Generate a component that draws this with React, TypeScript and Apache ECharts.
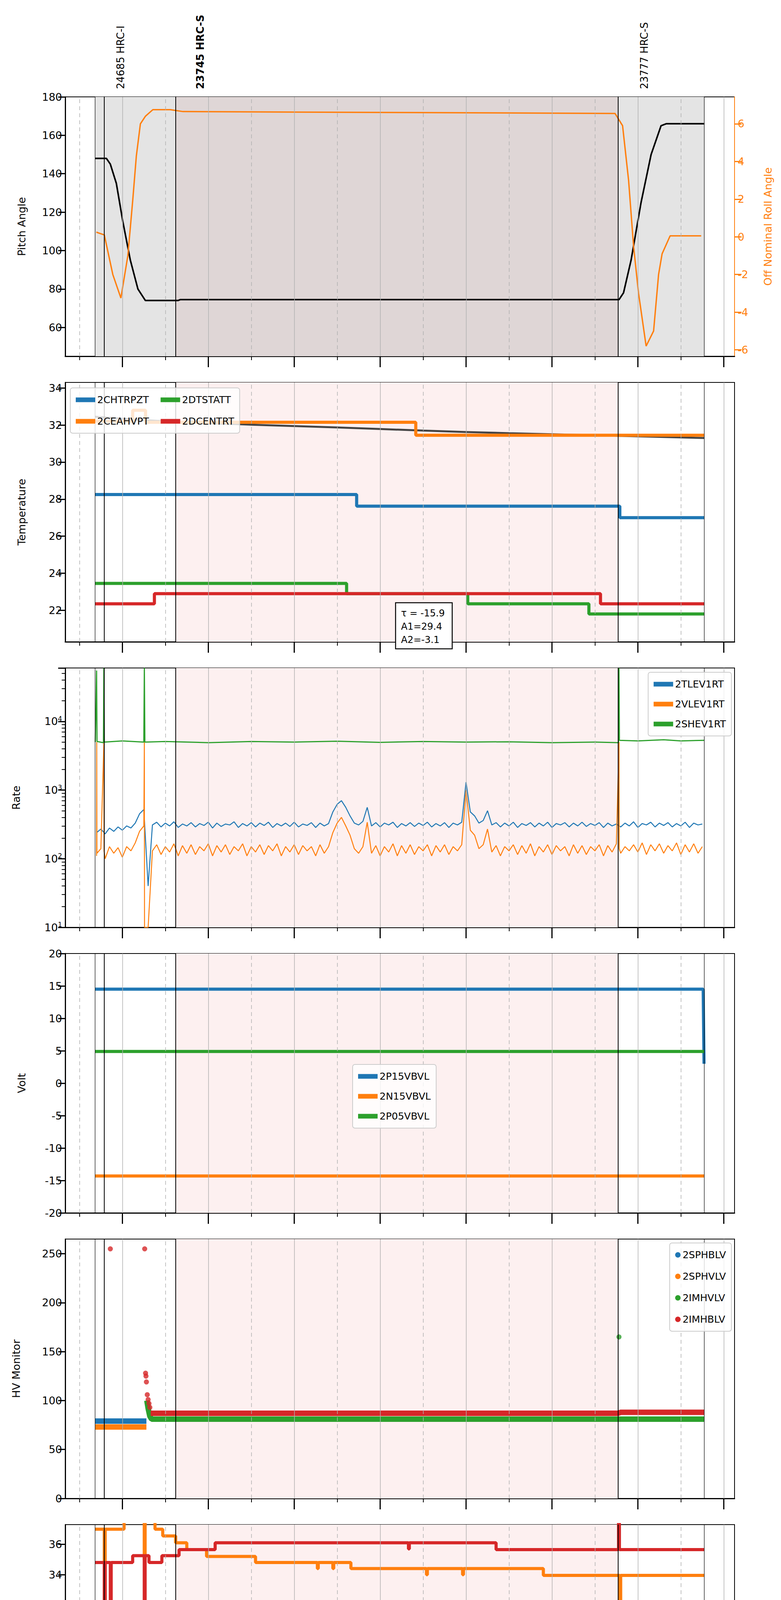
import React, { useEffect, useRef } from 'react';
import * as echarts from 'echarts';

const FONT = 'DejaVu Sans';
const BLUE = '#1f77b4';
const ORANGE = '#ff7f0e';
const GREEN = '#2ca02c';
const RED = '#d62728';

// x in decimal hours of 2021-01-06
const hourTicks = [17, 18, 19, 20, 21, 22, 23, 24];
const halfTicks = [16.5, 17.5, 18.5, 19.5, 20.5, 21.5, 22.5, 23.5];
const blackLines = [16.685, 16.786, 17.62, 22.77, 23.77];

// Pitch / roll
const pitch = [[16.685, 148], [16.814, 148], [16.86, 145], [16.93, 135], [17.006, 115], [17.093, 95], [17.181, 80], [17.268, 74], [17.647, 74], [17.676, 74.5], [22.781, 74.5], [22.833, 78], [22.921, 95], [23.037, 125], [23.154, 150], [23.27, 165], [23.329, 166], [23.772, 166]];
const roll = [[16.697, 0.25], [16.79, 0.1], [16.889, -2], [16.983, -3.25], [17.064, -1], [17.122, 2], [17.163, 4.3], [17.21, 6], [17.268, 6.4], [17.355, 6.75], [17.559, 6.75], [17.705, 6.65], [22.734, 6.55], [22.822, 5.9], [22.892, 3], [22.95, -0.5], [23.008, -3], [23.096, -5.8], [23.183, -5], [23.241, -2], [23.282, -0.9], [23.375, 0.05], [23.737, 0.05]];

// Temperature
const t2CHTRPZT = [[16.685, 28.25], [19.727, 27.62], [22.79, 27.0], [23.77, 27.0]];
const t2CEAHVPT = [[16.685, 32.2], [17.12, 32.8], [17.27, 32.15], [20.415, 31.45], [23.77, 31.45]];
const t2DTSTATT = [[16.685, 23.45], [19.61, 22.9], [21.02, 22.35], [22.43, 21.8], [23.77, 21.8]];
const t2DCENTRT = [[16.685, 22.35], [17.373, 22.9], [22.565, 22.35], [23.77, 22.35]];
const tempFit = [[16.685, 32.45], [17.5, 32.2], [18.5, 32.02], [19.5, 31.87], [20.5, 31.7], [21.5, 31.56], [22.5, 31.45], [23.77, 31.3]];

// Rates, sampled every 3 min from 16:42
const rateStart = 16.7;
const rateStep = 0.05;
const rate2TLEV1RT = [
  240, 270, 230, 280, 250, 290, 260, 300, 280, 330,
  450, 520, 40,
  310, 340, 290, 330, 300, 345, 285, 320, 300, 335, 290, 325, 305, 340, 280, 330, 295, 320, 310, 345,
  285, 325, 300, 335, 290, 330, 305, 340, 285, 325, 300, 330, 295, 340, 290, 320, 305, 335, 285, 330, 300, 325,
  480, 620, 700, 560, 420,
  330, 310, 350, 560,
  300, 335, 290, 330, 310, 340, 285, 325, 300, 335, 295, 330, 305, 340, 290, 325, 300, 335, 285, 330, 310, 340,
  1300, 480, 420, 330, 360, 500,
  310, 335, 290, 330, 300, 340, 285, 325, 305, 335, 290, 330, 300, 340, 285, 325, 310, 335, 290, 330,
  300, 340, 295, 325, 305, 335, 285, 330, 300, 320, 290, 330, 300, 345, 285, 325, 310, 340, 290, 330,
  305, 335, 290, 325, 300, 340, 285, 330, 310, 320,
];
const rate2VLEV1RT = [
  110, 140, 100, 150, 120, 145, 105, 150, 130, 170,
  250, 300, 10,
  130, 160, 115, 150, 125, 165, 110, 155, 120, 160, 115, 150, 130, 165, 110, 155, 125, 160, 115, 150,
  130, 165, 110, 150, 125, 160, 115, 155, 130, 165, 110, 150, 125, 160, 115, 155, 130, 150, 110, 160, 120, 150,
  240, 330, 400, 300, 220,
  140, 120, 150, 340,
  120, 155, 110, 150, 125, 165, 110, 155, 120, 160, 115, 150, 130, 160, 110, 155, 125, 160, 115, 150, 130, 160,
  1000, 260, 220, 140, 160, 270,
  125, 155, 110, 150, 130, 160, 115, 155, 120, 165, 110, 150, 125, 160, 115, 155, 130, 150, 110, 160,
  120, 155, 115, 150, 130, 160, 110, 155, 125, 165, 120, 150, 130, 160, 125, 170, 115, 160, 130, 165,
  120, 155, 130, 170, 115, 160, 125, 165, 120, 150,
];
const orangeRateSpikes = [[16.702, 5000], [16.704, 120], [16.785, 5000], [16.787, 130], [17.256, 5000], [17.258, 10], [22.781, 5000], [22.783, 140]];
const rate2SHEV1RT = [[16.685, 5000], [16.7, 55000], [16.705, 5100], [16.78, 4900], [16.785, 60000], [16.79, 5000], [17.0, 5200], [17.25, 5000], [17.256, 60000], [17.262, 5000], [17.5, 5100], [18.0, 4900], [18.5, 5100], [19.0, 5000], [19.5, 5150], [20.0, 4950], [20.5, 5100], [21.0, 5000], [21.5, 5050], [22.0, 4900], [22.5, 5000], [22.775, 4900], [22.78, 60000], [22.785, 5300], [23.0, 5200], [23.3, 5400], [23.5, 5200], [23.77, 5300]];

// Volt
const v2P15VBVL = [[16.685, 14.5], [23.76, 14.5], [23.77, 3]];
const v2N15VBVL = [[16.685, -14.3], [23.77, -14.3]];
const v2P05VBVL = [[16.685, 4.9], [23.77, 4.9]];

// HV monitor
const hv2SPHBLV = [[16.685, 79], [17.28, 79]];
const hv2SPHVLV = [[16.685, 73], [17.28, 73]];
const hv2IMHVLV = [[17.285, 100], [17.3, 92], [17.32, 84], [17.34, 81], [23.77, 81]];
const hv2IMHVLVPts = [[22.78, 165]];
const hv2IMHBLV = [[17.33, 87], [22.77, 87], [22.8, 88], [23.77, 88]];
const hv2IMHBLVPts = [[16.86, 255], [17.26, 255], [17.27, 128], [17.275, 125], [17.28, 119], [17.29, 106], [17.3, 101], [17.31, 97], [17.32, 93]];

// Detector temp
const d2SPINATM = [[16.685, 21.7], [23.77, 21.7]];
const d2SPHVATM = [[16.685, 37.0], [16.79, 10], [16.8, 37.0], [17.02, 37.8], [17.255, 35.0], [17.265, 37.8], [17.38, 37.0], [17.47, 36.55], [17.62, 36.1], [17.75, 35.65], [17.98, 35.2], [18.55, 34.8], [19.27, 34.4], [19.28, 34.8], [19.45, 34.4], [19.46, 34.8], [19.66, 34.4], [20.54, 34.0], [20.55, 34.4], [20.96, 34.0], [20.97, 34.4], [21.9, 33.95], [22.79, 10], [22.8, 33.95], [23.77, 33.95]];
const d2IMINATM = [[16.685, 23.1], [16.79, 10], [16.8, 23.1], [20.68, 22.4], [22.78, 10], [22.79, 22.4], [23.49, 21.7], [23.77, 21.7]];
const d2IMHVATM = [[16.685, 34.8], [16.79, 10], [16.8, 34.8], [16.86, 10], [16.87, 34.8], [17.12, 35.25], [17.255, 10], [17.265, 35.25], [17.31, 34.8], [17.46, 35.25], [17.66, 35.65], [18.08, 36.1], [20.33, 35.7], [20.34, 36.1], [21.35, 35.65], [22.775, 40], [22.785, 35.65], [23.77, 35.65]];

// FEA temp
const f2FHTRMZT = [[16.685, 26.4], [17.9, 25.8], [18.655, 25.2], [19.44, 24.6], [20.27, 24.05], [21.16, 23.45], [22.13, 22.9], [23.77, 22.9]];
const f2FRADPYT = [[16.685, 21.8], [16.94, 22.35], [17.105, 21.8], [17.31, 21.25], [17.58, 20.7], [17.98, 20.2], [18.515, 19.7], [19.15, 19.15], [19.87, 18.65], [20.62, 18.15], [21.45, 17.65], [22.41, 17.15], [23.14, 17.65], [23.48, 18.15], [23.77, 18.15]];
const f2FEPRATM = [[16.685, 27.8], [16.8, 29], [16.805, 25.6], [16.81, 27.8], [16.855, 25.6], [16.86, 27.8], [17.26, 25.6], [17.265, 27.8], [18.08, 27.0], [19.31, 26.15], [20.56, 25.4], [21.96, 24.6], [22.78, 29], [22.785, 24.6], [23.77, 24.6]];
const f2FE00ATM = [[16.685, 25.3], [16.7, 25.65], [16.79, 10], [16.8, 25.65], [16.86, 10], [16.87, 25.65], [16.93, 25.3], [16.95, 25.65], [17.08, 24.9], [17.1, 25.65], [17.12, 25.3], [17.14, 25.65], [17.26, 10], [17.27, 25.65], [17.38, 25.3], [17.81, 26.3], [17.82, 25.3], [17.94, 24.95], [18.235, 24.0], [18.245, 24.95], [18.53, 24.6], [18.88, 25.3], [18.89, 24.6], [19.07, 24.3], [19.34, 22.6], [19.35, 24.3], [19.64, 25.3], [19.65, 24.3], [19.69, 23.95], [20.0, 22.9], [20.01, 23.95], [20.27, 23.65], [20.91, 23.3], [21.06, 22.6], [21.07, 23.3], [21.58, 23.0], [21.71, 22.3], [21.72, 23.0], [22.27, 21.7], [22.28, 23.0], [22.31, 22.65], [22.775, 25.3], [22.785, 22.65], [23.21, 22.3], [23.22, 22.65], [23.77, 22.65]];

const TOP0 = 240;
const STEP = 731;
const PH = 664;
const LEFT = 159;
const RIGHT = 111;

const withSpikes = (vals: number[], spikes: number[][]) =>
  vals.map((v, i) => [rateStart + rateStep * i, v]).concat(spikes).sort((a, b) => a[0] - b[0]);

const App: React.FC = () => {
  const ref = useRef<HTMLDivElement>(null);

  useEffect(() => {
    if (!ref.current) return;
    const chart = echarts.init(ref.current, undefined, { renderer: 'svg' });

    const names = ['Pitch Angle', 'Temperature', 'Rate', 'Volt', 'HV Monitor', 'Detector Temp', 'FEA Temp'];
    const yDefs: any[] = [
      { min: 45, max: 180, ticks: [60, 80, 100, 120, 140, 160, 180] },
      { min: 20.3, max: 34.3, ticks: [22, 24, 26, 28, 30, 32, 34] },
      { log: true },
      { min: -20, max: 20, ticks: [-20, -15, -10, -5, 0, 5, 10, 15, 20] },
      { min: 0, max: 265, ticks: [0, 50, 100, 150, 200, 250] },
      { min: 20.2, max: 37.3, ticks: [22, 24, 26, 28, 30, 32, 34, 36] },
      { min: 16.15, max: 28.4, ticks: [18, 20, 22, 24, 26, 28] },
    ];

    const grid: any[] = [];
    const xAxis: any[] = [];
    const yAxis: any[] = [];
    const series: any[] = [];
    const yIdx: number[] = [];

    const tickStyle = { show: true, inside: false, lineStyle: { color: '#000', width: 3 } };

    for (let p = 0; p < 7; p++) {
      const last = p === 6;
      grid.push({ left: LEFT, right: RIGHT, top: TOP0 + STEP * p, height: PH, show: true, borderColor: '#000', borderWidth: 2, backgroundColor: 'transparent' });
      xAxis.push({
        type: 'value', gridIndex: p, min: 16.335, max: 24.125, position: 'bottom',
        axisLine: { show: true, onZero: false, lineStyle: { color: '#000', width: 3 } },
        axisTick: { ...tickStyle, length: 28, customValues: hourTicks },
        axisLabel: {
          show: last, customValues: hourTicks, margin: 38, fontFamily: FONT, fontSize: 28, color: '#000',
          formatter: (v: number) => String(v % 24).padStart(2, '0') + 'h',
        },
        splitLine: { show: false },
        name: last ? '2021-01-06 (006)' : '', nameLocation: 'middle', nameGap: 88,
        nameTextStyle: { fontFamily: FONT, fontSize: 30, color: '#000' },
      });
      xAxis.push({
        type: 'value', gridIndex: p, min: 16.335, max: 24.125, position: 'bottom',
        axisLine: { show: false, onZero: false },
        axisTick: { ...tickStyle, length: 10, lineStyle: { color: '#000', width: 2 }, customValues: halfTicks },
        axisLabel: { show: last, customValues: halfTicks, margin: 14, fontFamily: FONT, fontSize: 17, color: '#000', formatter: () => '30' },
        splitLine: { show: false },
      });
      const d = yDefs[p];
      yIdx.push(yAxis.length);
      const base: any = {
        gridIndex: p, position: 'left',
        axisLine: { show: true, onZero: false, lineStyle: { color: '#000', width: 3 } },
        axisTick: { ...tickStyle, length: 18 },
        splitLine: { show: false },
        name: names[p], nameLocation: 'middle', nameGap: p === 2 || p === 4 ? 112 : 98,
        nameTextStyle: { fontFamily: FONT, fontSize: 27, color: '#000' },
      };
      if (d.log) {
        yAxis.push({
          ...base, type: 'log', logBase: 10, min: 10, max: 60000,
          axisLabel: {
            fontFamily: FONT, color: '#000', showMaxLabel: false,
            formatter: (v: number) => {
              const e = Math.log10(v);
              if (Math.abs(e - Math.round(e)) > 1e-6) return '';
              return `{b|10}{s|${Math.round(e)}}`;
            },
            rich: { b: { fontSize: 27, fontFamily: FONT, color: '#000' }, s: { fontSize: 17, fontFamily: FONT, color: '#000', padding: [0, 0, 14, 0] } },
          },
          minorTick: { show: true, splitNumber: 9, length: 9, lineStyle: { color: '#000', width: 2 } },
        });
      } else {
        yAxis.push({
          ...base, type: 'value', min: d.min, max: d.max,
          axisTick: { ...base.axisTick, customValues: d.ticks },
          axisLabel: { customValues: d.ticks, fontFamily: FONT, fontSize: 27, color: '#000' },
        });
      }
      // background shading + vertical guide lines
      const areas: any[] = p === 0
        ? [
            [{ xAxis: 16.685, itemStyle: { color: '#e4e4e4' } }, { xAxis: 23.77 }],
            [{ xAxis: 17.62, itemStyle: { color: 'rgba(200,150,150,0.17)' } }, { xAxis: 22.77 }],
          ]
        : [[{ xAxis: 17.62, itemStyle: { color: '#fdf0f0' } }, { xAxis: 22.77 }]];
      const lines: any[] = [
        ...hourTicks.map((h) => ({ xAxis: h, lineStyle: { color: '#b0b0b0', width: 1.5, type: 'solid' } })),
        ...halfTicks.map((h) => ({ xAxis: h, lineStyle: { color: '#b0b0b0', width: 1.5, type: [10, 8] } })),
        ...blackLines.map((h, k) => ({ xAxis: h, lineStyle: { color: '#000', width: k === 0 || k === 4 ? 1.2 : 2, type: 'solid' } })),
      ];
      series.push({
        type: 'line', xAxisIndex: 2 * p, yAxisIndex: yIdx[p], data: [], z: 1, silent: true,
        markArea: { silent: true, data: areas },
        markLine: { silent: true, symbol: 'none', label: { show: false }, data: lines },
      });
    }
    // right axis for roll
    const rollAxis = yAxis.length;
    yAxis.push({
      type: 'value', gridIndex: 0, position: 'right', min: -6.34, max: 7.43,
      axisLine: { show: true, onZero: false, lineStyle: { color: ORANGE, width: 2 } },
      axisTick: { ...tickStyle, length: 18, lineStyle: { color: ORANGE, width: 3 }, customValues: [-6, -4, -2, 0, 2, 4, 6] },
      axisLabel: { customValues: [-6, -4, -2, 0, 2, 4, 6], fontFamily: FONT, fontSize: 27, color: ORANGE },
      splitLine: { show: false },
      name: 'Off Nominal Roll Angle', nameLocation: 'middle', nameGap: 72, nameRotate: 90,
      nameTextStyle: { fontFamily: FONT, fontSize: 27, color: ORANGE },
    });

    const ln = (p: number, name: string, data: any, color: string, width: number, extra: any = {}) => ({
      type: 'line', name, data, xAxisIndex: 2 * p, yAxisIndex: yIdx[p], showSymbol: false, z: 3,
      lineStyle: { color, width }, itemStyle: { color }, clip: true, ...extra,
    });

    series.push(ln(0, 'pitch', pitch, '#000', 4));
    series.push({ ...ln(0, 'roll', roll, ORANGE, 3.5), yAxisIndex: rollAxis });

    series.push(ln(1, 'fit', tempFit, '#444', 5, { smooth: true, z: 2 }));
    series.push(ln(1, '2CHTRPZT', t2CHTRPZT, BLUE, 8, { step: 'end' }));
    series.push(ln(1, '2CEAHVPT', t2CEAHVPT, ORANGE, 8, { step: 'end' }));
    series.push(ln(1, '2DTSTATT', t2DTSTATT, GREEN, 8, { step: 'end' }));
    series.push(ln(1, '2DCENTRT', t2DCENTRT, RED, 8, { step: 'end' }));

    series.push(ln(2, '2TLEV1RT', withSpikes(rate2TLEV1RT, []), BLUE, 2.5));
    series.push(ln(2, '2VLEV1RT', withSpikes(rate2VLEV1RT, orangeRateSpikes), ORANGE, 2.5));
    series.push(ln(2, '2SHEV1RT', rate2SHEV1RT, GREEN, 3));

    series.push(ln(3, '2P15VBVL', v2P15VBVL, BLUE, 8));
    series.push(ln(3, '2N15VBVL', v2N15VBVL, ORANGE, 8));
    series.push(ln(3, '2P05VBVL', v2P05VBVL, GREEN, 8));

    series.push(ln(4, '2SPHBLV', hv2SPHBLV, BLUE, 14));
    series.push(ln(4, '2SPHVLV', hv2SPHVLV, ORANGE, 14));
    series.push(ln(4, '2IMHVLV', hv2IMHVLV, GREEN, 14));
    series.push({ type: 'scatter', name: '2IMHVLV', data: hv2IMHVLVPts, xAxisIndex: 8, yAxisIndex: yIdx[4], symbolSize: 13, itemStyle: { color: GREEN }, z: 3 });
    series.push(ln(4, '2IMHBLV', hv2IMHBLV, RED, 14));
    series.push({ type: 'scatter', name: '2IMHBLV', data: hv2IMHBLVPts, xAxisIndex: 8, yAxisIndex: yIdx[4], symbolSize: 13, itemStyle: { color: RED }, z: 3 });

    series.push(ln(5, '2SPINATM', d2SPINATM, BLUE, 8, { step: 'end' }));
    series.push(ln(5, '2SPHVATM', d2SPHVATM, ORANGE, 8, { step: 'end' }));
    series.push(ln(5, '2IMINATM', d2IMINATM, GREEN, 8, { step: 'end' }));
    series.push(ln(5, '2IMHVATM', d2IMHVATM, RED, 8, { step: 'end' }));

    series.push(ln(6, '2FHTRMZT', f2FHTRMZT, BLUE, 8, { step: 'end' }));
    series.push(ln(6, '2FRADPYT', f2FRADPYT, ORANGE, 8, { step: 'end' }));
    series.push(ln(6, '2FEPRATM', f2FEPRATM, GREEN, 8, { step: 'end' }));
    series.push(ln(6, '2FE00ATM', f2FE00ATM, RED, 8, { step: 'end' }));

    const lg = (data: string[], pos: any, extra: any = {}) => ({
      data, ...pos, orient: 'vertical', icon: 'rect', itemWidth: 50, itemHeight: 12, itemGap: 26,
      padding: [18, 14, 18, 14], backgroundColor: 'rgba(255,255,255,0.8)', borderColor: '#ccc', borderWidth: 2, borderRadius: 6,
      textStyle: { fontFamily: FONT, fontSize: 25, color: '#000' }, z: 10, ...extra,
    });

    const legend = [
      lg(['2CHTRPZT', '2DTSTATT', '2CEAHVPT', '2DCENTRT'], { left: 172, top: 985 }, { orient: 'horizontal', width: 520, itemGap: 30 }),
      lg(['2TLEV1RT', '2VLEV1RT', '2SHEV1RT'], { right: 119, top: 1713 }),
      lg(['2P15VBVL', '2N15VBVL', '2P05VBVL'], { left: 895, top: 2717 }),
      lg(['2SPHBLV', '2SPHVLV', '2IMHVLV', '2IMHBLV'], { right: 119, top: 3174 }, { icon: 'circle', itemWidth: 14, itemHeight: 14, itemGap: 30 }),
      lg(['2SPINATM', '2SPHVATM', '2IMINATM', '2IMHVATM'], { right: 119, top: 4134 }),
      lg(['2FHTRMZT', '2FRADPYT', '2FEPRATM', '2FE00ATM'], { right: 119, top: 4634 }),
    ];

    const vtext = (x: number, text: string, bold: boolean) => ({
      type: 'text', x, y: 220, rotation: Math.PI / 2,
      style: { text, fontFamily: FONT, fontSize: 26, fontWeight: bold ? 'bold' : 'normal', fill: '#000', align: 'left', verticalAlign: 'middle' },
    });

    chart.setOption({
      animation: false,
      backgroundColor: '#fff',
      grid, xAxis, yAxis, series, legend,
      graphic: [
        vtext(301, '24685 HRC-I', false),
        vtext(505, '23745 HRC-S', true),
        vtext(1642, '23777 HRC-S', false),
        { type: 'rect', z: 100, shape: { x: 1005, y: 1535, width: 145, height: 118 }, style: { fill: '#fff', stroke: '#000', lineWidth: 2.5 } },
        { type: 'text', z: 101, x: 1019, y: 1545, style: { text: 'τ = -15.9\nA1=29.4\nA2=-3.1', fontFamily: FONT, fontSize: 24, lineHeight: 34, fill: '#000' } },
      ],
    });

    return () => chart.dispose();
  }, []);

  return <div ref={ref} style={{ width: 1984, height: 5384 }} />;
};

export default App;
